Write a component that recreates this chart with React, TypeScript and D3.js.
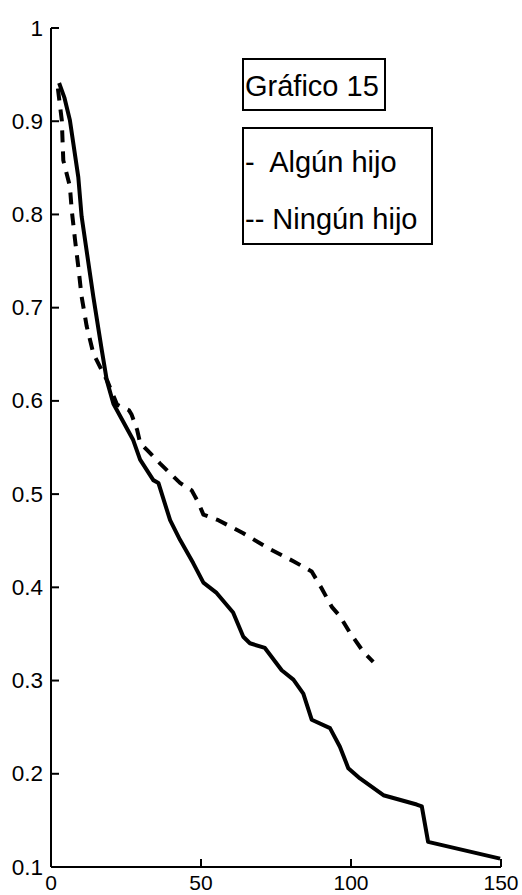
import React from "react";
import * as d3 from "d3";

const xTicks = [0, 50, 100, 150];
const yTicks = [0.1, 0.2, 0.3, 0.4, 0.5, 0.6, 0.7, 0.8, 0.9, 1];
const yTickLabels = ["0.1", "0.2", "0.3", "0.4", "0.5", "0.6", "0.7", "0.8", "0.9", "1"];

const algunX = [2.7, 4.5, 6.3, 9.1, 10.2, 14.1, 16.9, 18.6, 20.8, 27.4, 29.7, 34.1, 35.8, 39.7, 43, 47.4, 50.8, 55.2, 60.7, 64.1, 66.3, 71.3, 76.9, 80.8, 84.1, 86.9, 93, 96.3, 99.1, 103, 110.8, 121.9, 123.6, 125.7, 149.7];
const algunY = [0.941, 0.925, 0.901, 0.84, 0.798, 0.712, 0.655, 0.622, 0.597, 0.558, 0.537, 0.515, 0.512, 0.472, 0.451, 0.426, 0.405, 0.394, 0.373, 0.347, 0.34, 0.335, 0.311, 0.301, 0.286, 0.258, 0.249, 0.229, 0.206, 0.195, 0.177, 0.167, 0.165, 0.127, 0.109];

const ningunX = [2.3, 3.6, 4.1, 6.3, 6.9, 8, 9.1, 10.2, 11.9, 14.1, 18, 18.7, 22, 26, 26.9, 28.7, 29.7, 32.4, 36.3, 43, 46.9, 49.1, 50.8, 55.8, 64.1, 72.4, 80.8, 86.9, 90.2, 93.6, 96.3, 99.7, 104.1, 107.4];
const ningunY = [0.935, 0.901, 0.858, 0.83, 0.805, 0.773, 0.744, 0.712, 0.68, 0.651, 0.626, 0.622, 0.596, 0.59, 0.585, 0.569, 0.555, 0.546, 0.533, 0.512, 0.504, 0.491, 0.478, 0.472, 0.458, 0.442, 0.428, 0.417, 0.399, 0.379, 0.369, 0.351, 0.331, 0.32];

const FONT = "'Liberation Sans', Arial, Helvetica, sans-serif";

export default function App() {
  const width = 522;
  const height = 895;
  const x = d3.scaleLinear().domain([0, 150]).range([51, 501]);
  const y = d3.scaleLinear().domain([0.1, 1]).range([867, 28]);

  const makePath = (xs: number[], ys: number[]) =>
    d3
      .line<[number, number]>()
      .x((d) => x(d[0]))
      .y((d) => y(d[1]))(xs.map((v, i) => [v, ys[i]] as [number, number])) || "";

  return (
    <svg
      width={width}
      height={height}
      style={{ position: "absolute", left: 0, top: 0, background: "#fff" }}
      fontFamily={FONT}
    >
      <rect x={0} y={0} width={width} height={height} fill="#fff" />
      {/* axes */}
      <line x1={x(0)} y1={y(1)} x2={x(0)} y2={y(0.1)} stroke="#000" strokeWidth={2} />
      <line x1={x(0)} y1={y(0.1)} x2={x(150)} y2={y(0.1)} stroke="#000" strokeWidth={2} />
      {yTicks.map((t, i) => (
        <g key={"y" + i}>
          <line x1={x(0)} x2={x(0) + 8} y1={y(t)} y2={y(t)} stroke="#000" strokeWidth={2} />
          <text
            x={43}
            y={y(t)}
            textAnchor="end"
            dominantBaseline="central"
            fontSize={22.5}
            fill="#000"
          >
            {yTickLabels[i]}
          </text>
        </g>
      ))}
      {xTicks.map((t, i) => (
        <g key={"x" + i}>
          <line x1={x(t)} x2={x(t)} y1={y(0.1)} y2={y(0.1) - 8} stroke="#000" strokeWidth={2} />
          <text x={x(t)} y={890} textAnchor="middle" fontSize={21} fill="#000">
            {String(t)}
          </text>
        </g>
      ))}
      {/* curves */}
      <path d={makePath(ningunX, ningunY)} fill="none" stroke="#000" strokeWidth={4} strokeDasharray="12 9" strokeLinejoin="round" />
      <path d={makePath(algunX, algunY)} fill="none" stroke="#000" strokeWidth={4} strokeLinejoin="round" />
      {/* legend */}
      <rect x={243} y={59} width={142} height={51} fill="#fff" stroke="#000" strokeWidth={2} />
      <text x={245} y={95.5} fontSize={29} fill="#000">Gráfico 15</text>
      <rect x={243} y={128} width={189} height={116} fill="#fff" stroke="#000" strokeWidth={2} />
      <text x={245} y={172} fontSize={29} fill="#000" style={{ whiteSpace: "pre" }}>{"-  Algún hijo"}</text>
      <text x={245} y={229} fontSize={29} fill="#000" style={{ whiteSpace: "pre" }}>{"-- Ningún hijo"}</text>
    </svg>
  );
}
